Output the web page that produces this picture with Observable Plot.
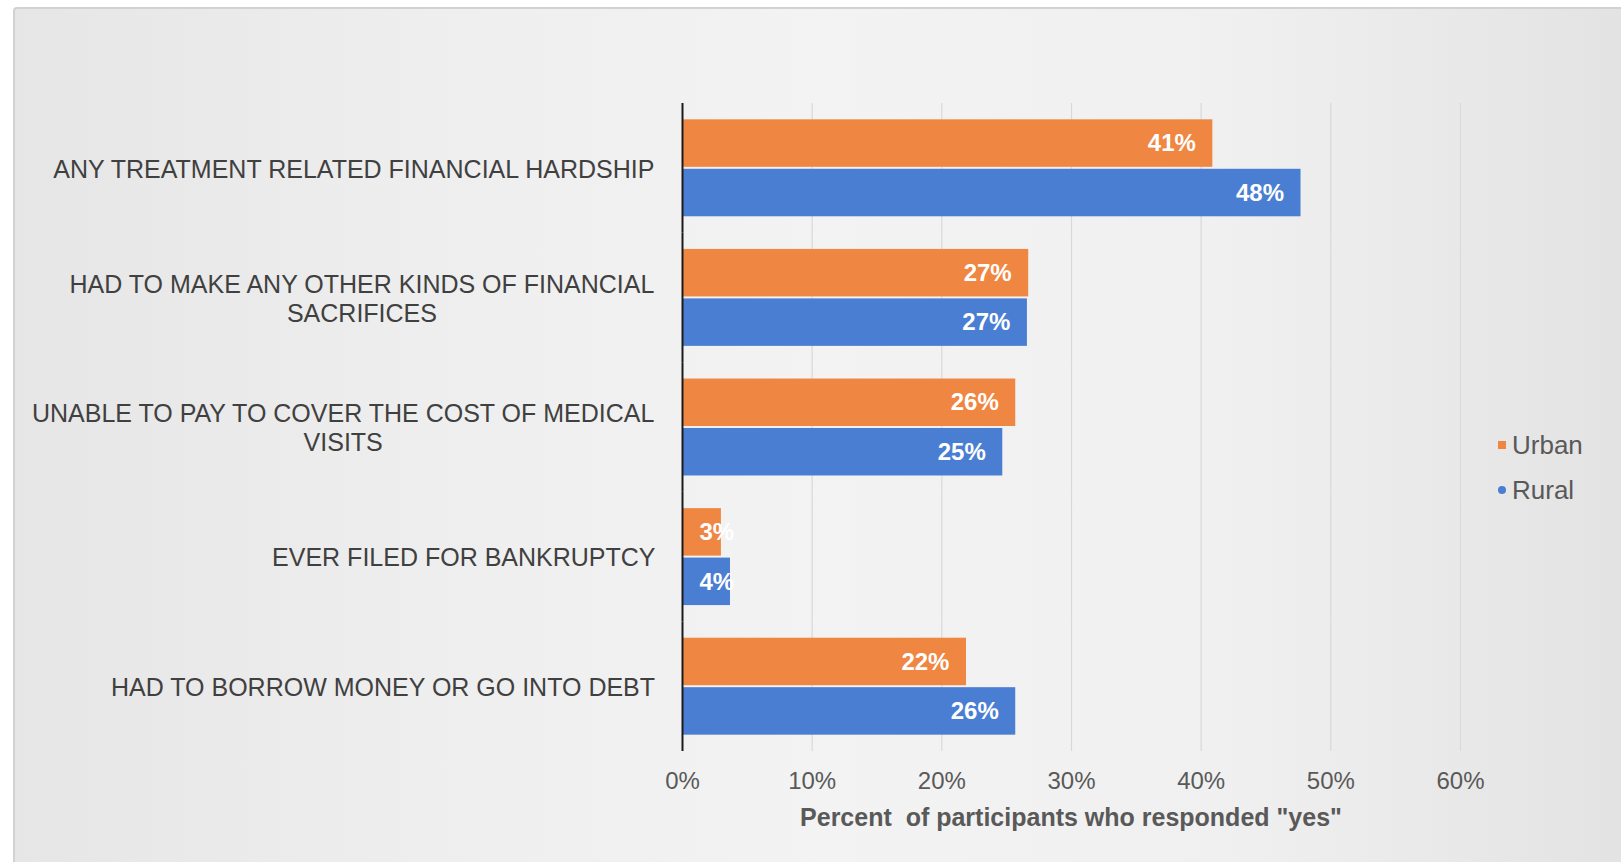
<!DOCTYPE html>
<html>
<head>
<meta charset="utf-8">
<script src="https://cdn.jsdelivr.net/npm/d3@7"></script>
<script src="https://cdn.jsdelivr.net/npm/@observablehq/plot@0.6"></script>
<style>
  html, body { margin: 0; padding: 0; background: #ffffff; }
  #wrap { position: relative; width: 1621px; height: 862px; overflow: hidden; font-family: "Liberation Sans", Arial, sans-serif; }
  #bg { position: absolute; left: 13px; top: 7px; right: -4px; bottom: -4px;
        border-left: 2px solid #d2d2d2; border-top: 2px solid #d2d2d2; border-top-left-radius: 4px;
        background: linear-gradient(to right, #e6e6e6 0%, #eeeeee 25%, #f3f3f3 50%, #f0f0f0 75%, #e3e3e3 100%); }
  #chart { position: absolute; left: 0; top: 0; }
  #xtitle { position: absolute; top: 805px; left: 682px; width: 778px; text-align: center; white-space: pre;
            font-size: 25px; line-height: 1; font-weight: bold; color: #595959; }
  .lg { position: absolute; left: 1498px; font-size: 26px; line-height: 1; color: #595959; white-space: nowrap; }
  .lg span.sw { display: inline-block; width: 8px; height: 8px; margin-right: 6px; vertical-align: middle; position: relative; top: -2px; }
</style>
</head>
<body>
<div id="wrap">
  <div id="bg"></div>
  <div id="chart"></div>
  <div id="xtitle"></div>
  <div id="legend"></div>
</div>
<script>
// ---- data ----
const categories = [
  "ANY TREATMENT RELATED FINANCIAL HARDSHIP",
  "HAD TO MAKE ANY OTHER KINDS OF FINANCIAL\nSACRIFICES",
  "UNABLE TO PAY TO COVER THE COST OF MEDICAL\nVISITS",
  "EVER FILED FOR BANKRUPTCY",
  "HAD TO BORROW MONEY OR GO INTO DEBT"
];
const seriesNames = ["Urban", "Rural"];
const urbanValues = [40.9, 26.7, 25.7, 3.0, 21.9];
const ruralValues = [47.7, 26.6, 24.7, 3.7, 25.7];
const xTicks = [0, 10, 20, 30, 40, 50, 60];
const seriesColors = ["#ef8641", "#4a7ed2"];
const xTitle = "Percent  of participants who responded \"yes\"";

const rows = categories.flatMap((c, i) => [
  {category: c, series: "Urban", value: urbanValues[i]},
  {category: c, series: "Rural", value: ruralValues[i]}
]);

const fmt = v => Math.round(v) + "%";
const FONT = "\"Liberation Sans\", Arial, sans-serif";

// measure label widths so each multi-line label is a right-aligned block of centered lines
const ctx = document.createElement("canvas").getContext("2d");
ctx.font = "25px \"Liberation Sans\", Arial, sans-serif";
const labelWidth = c => d3.max(c.split("\n"), l => ctx.measureText(l).width);

const labelMarks = categories.map(c => Plot.text(rows, {
  filter: d => d.category === c && d.series === "Urban",
  text: d => d.category,
  frameAnchor: "left",
  textAnchor: "middle",
  lineAnchor: "middle",
  lineHeight: 1.16,
  dx: -(27 + labelWidth(c) / 2),
  fontSize: 25,
  fill: "#404040"
}));

const chart = Plot.plot({
  width: 1621,
  height: 862,
  marginLeft: 682,
  marginRight: 161,
  marginTop: 103,
  marginBottom: 111,
  style: {background: "transparent", fontFamily: FONT, fontSize: "24px", color: "#595959", overflow: "visible"},
  facet: {data: rows, y: "category"},
  fy: {domain: categories, padding: 0, round: false, axis: null},
  y: {domain: seriesNames, paddingInner: 0.04, paddingOuter: 0.33, round: false, axis: null},
  x: {domain: [0, 60], ticks: xTicks, tickFormat: d => d + "%", tickSize: 0, tickPadding: 20, label: null},
  color: {domain: seriesNames, range: seriesColors},
  marks: [
    Plot.ruleX(xTicks.slice(1), {stroke: "#d9d9d9", strokeWidth: 1.2}),
    Plot.barX(rows, {x: "value", y: "series", fill: "series"}),
    Plot.ruleX([0], {stroke: "#1a1a1a", strokeWidth: 2}),
    Plot.text(rows, {filter: d => d.value >= 10, x: "value", y: "series", text: d => fmt(d.value),
      textAnchor: "end", dx: -17, fill: "white", fontWeight: "bold", fontSize: 24}),
    Plot.text(rows, {filter: d => d.value < 10, x: () => 0, y: "series", text: d => fmt(d.value),
      textAnchor: "start", dx: 17, fill: "white", fontWeight: "bold", fontSize: 24}),
    ...labelMarks
  ]
});
document.getElementById("chart").appendChild(chart);

document.getElementById("xtitle").textContent = xTitle;

const legend = document.getElementById("legend");
const legendTops = [432, 477];
seriesNames.forEach((s, i) => {
  const div = document.createElement("div");
  div.className = "lg";
  div.style.top = legendTops[i] + "px";
  const sw = document.createElement("span");
  sw.className = "sw";
  sw.style.background = seriesColors[i];
  if (i === 1) sw.style.borderRadius = "50%";
  div.appendChild(sw);
  div.appendChild(document.createTextNode(s));
  legend.appendChild(div);
});
</script>
</body>
</html>
